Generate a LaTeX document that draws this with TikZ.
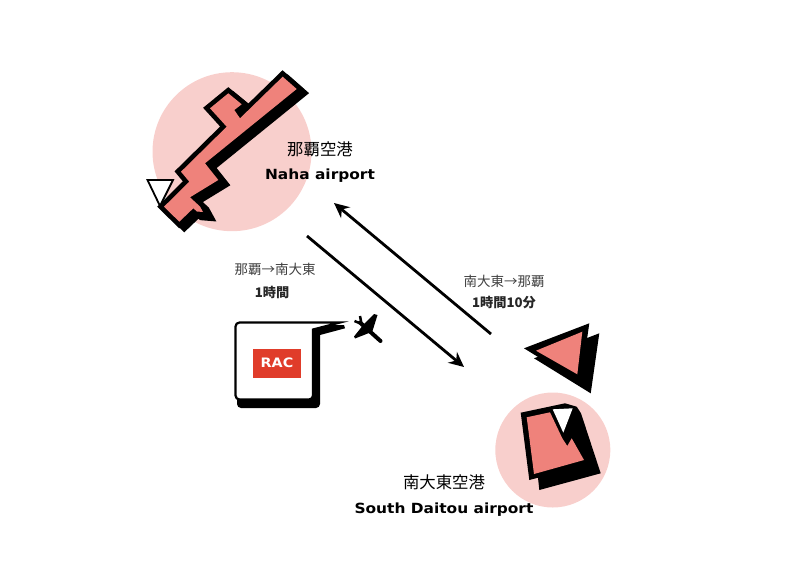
\documentclass[tikz,border=0pt]{standalone}
\usepackage{fontspec}
\setmainfont[FakeStretch=1.1]{DejaVu Sans}
\newfontfamily\cjk{Noto Sans CJK JP}
\usetikzlibrary{arrows.meta}
\definecolor{circlepink}{HTML}{F8CFCC}
\definecolor{salmon}{HTML}{EF827B}
\definecolor{racred}{HTML}{E03C2A}
\tikzset{
  outline/.style={line width=9.5pt, draw=black, line join=miter, miter limit=3},
  fly/.style={line width=2.8pt, -{Stealth[length=15pt,width=14pt]}},
  ja/.style={font=\cjk\fontsize{16.4}{19}\selectfont, inner sep=0pt},
  jasmall/.style={font=\cjk\fontsize{13.5}{16}\selectfont, text=black!75, inner sep=0pt},
  jabold/.style={font=\cjk\bfseries\fontsize{13.2}{16}\selectfont, text=black!85, inner sep=0pt},
  en/.style={font=\bfseries\fontsize{14}{17}\selectfont, inner sep=0pt}
}
\begin{document}
\begin{tikzpicture}[x=1pt,y=-1pt]
    \useasboundingbox (0,0) rectangle (800,560);

    % Naha island
    \fill[circlepink] (232,151.7) circle (79.5);
    \def\nahashape{(282.7,76.7) -- (296.7,89) -- (205,163.3) -- (218.3,180) -- (190,197.3) -- (200,206.5) -- (203,212) -- (197,211.5) -- (193.3,208.3) -- (179.3,221.7) -- (164,206.7) -- (189.3,181.7) -- (181,171.7) -- (226.7,126.7) -- (210,108.3) -- (228.3,93.3) -- (241.7,104.3) -- (234.3,110) -- (240,118.3) -- cycle}
    \draw[outline, fill=black, shift={(5,4)}] \nahashape;
    \draw[outline] \nahashape;
    \fill[salmon] \nahashape;
    \draw[line width=1.8pt, fill=white] (147.5,180) -- (173,180) -- (160,206) -- cycle;

    % South Daitou island
    \fill[circlepink] (552.8,450) circle (57.5);
    \def\triangleouter{(524,348.3) -- (589.3,323.3) -- (580.7,383.3) -- cycle}
    \fill[shift={(10,10)}] \triangleouter;
    \fill \triangleouter;
    \fill[salmon] (536,350.7) -- (582.3,331.7) -- (577.3,374.3) -- cycle;
    \fill (539.3,490) -- (600.7,473.3) -- (581,413.3) -- (576.7,406.7) -- (565,403.3) -- (520.7,412.7) -- (529.3,480) -- (538,477.7) -- cycle;
    \fill[salmon] (526.7,417.3) -- (550,412.3) -- (562.3,438.3) -- (567.3,446) -- (571.7,438.3) -- (584,460) -- (534,474) -- cycle;
    \fill[white] (552.7,409.3) -- (572.7,408.3) -- (563.3,432.7) -- cycle;

    % RAC bubble
    \fill (237,330) [rounded corners=4pt] -- (237,408) -- (320,408) [sharp corners] -- (320,335) -- (345,328.3) -- (344,325) -- (313,325) -- cycle;
    \draw[line width=2.2pt, fill=white] (313,322.5) [rounded corners=4pt] -- (235.5,322.5) -- (235.5,399.5) -- (313,399.5) [sharp corners] -- (313,329.5) -- (340,322.5) -- cycle;
    \node[fill=racred, text=white, font=\bfseries\fontsize{13}{15}\selectfont, minimum width=48pt, minimum height=29pt, inner sep=0pt] (rac) at (277,363) {RAC};

    % plane
    \draw[line width=4pt, line cap=round] (360,322.5) -- (380.5,341);
    \fill (374,314) -- (377.5,315) -- (372.5,331) -- (369,333) -- (355,338.5) -- (354,336.5) -- (364,324) -- cycle;
    \draw[line width=2.5pt] (354.5,321) -- (364,325);
    \draw[line width=2.5pt] (360,316) -- (362,326);

    % flight connectors
    \coordinate (outstart) at (307,236);
    \coordinate (outend) at (464,367);
    \coordinate (backstart) at (491,334);
    \coordinate (backend) at (334,203);
    \draw[fly] (outstart) -- (outend);
    \draw[fly] (backstart) -- (backend);

    % labels
    \node[ja] (nahaja) at (320,149) {那覇空港};
    \node[en] (nahaen) at (320,175.5) {Naha airport};
    \node[jasmall] (outlabel) at (275,269) {那覇→南大東};
    \node[jabold] (outtime) at (272,292) {1時間};
    \node[jasmall] (backlabel) at (504,281) {南大東→那覇};
    \node[jabold] (backtime) at (504,303) {1時間10分};
    \node[ja] (daitouja) at (444,482) {南大東空港};
    \node[en] (daitouen) at (444,509.5) {South Daitou airport};
\end{tikzpicture}
\end{document}
